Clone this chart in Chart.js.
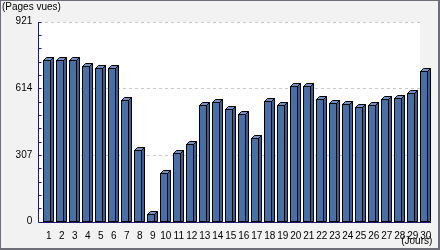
<!DOCTYPE html>
<html><head><meta charset="utf-8">
<script src="https://cdn.jsdelivr.net/npm/chart.js@4/dist/chart.umd.min.js"></script>
<style>html,body{margin:0;padding:0;background:#f2f2f2}canvas{display:block}</style>
</head><body>
<canvas id="c" width="440" height="250"></canvas>
<script>
const days = ['1','2','3','4','5','6','7','8','9','10','11','12','13','14','15','16','17','18','19','20','21','22','23','24','25','26','27','28','29','30'];
const pageViews = [743,743,743,716,706,706,560,330,34,223,315,358,537,551,519,496,385,556,537,625,625,564,548,543,528,539,564,568,594,694];
const yTicks = [0,307,614,921];
const yTitle = '(Pages vues)';
const xTitle = '(Jours)';

const FONT = {family:'"Liberation Sans", Arial, sans-serif', size:10, weight:'normal'};
const AXIS = '#1a1a70';

const framePlugin = {
  id:'frame',
  beforeDraw(chart){
    const ctx = chart.ctx, a = chart.chartArea, W = chart.width, H = chart.height;
    const ys = chart.scales.y;
    ctx.save();
    ctx.fillStyle = '#f2f2f2'; ctx.fillRect(0,0,W,H);
    const ax = Math.round(a.left - 4.3);
    const rx = Math.round(a.right - 12.3);
    const top = Math.round(ys.getPixelForValue(yTicks[yTicks.length-1]));
    const bot = Math.round(ys.getPixelForValue(0));
    ctx.fillStyle = '#ffffff'; ctx.fillRect(ax, top, rx-ax, bot-top);
    ctx.strokeStyle = '#c8c8c8'; ctx.lineWidth = 1; ctx.setLineDash([3,3]);
    yTicks.forEach(v=>{ if(v===0) return; const y = Math.round(ys.getPixelForValue(v))+0.5;
      ctx.beginPath(); ctx.moveTo(ax+1,y); ctx.lineTo(rx,y); ctx.stroke(); });
    ctx.setLineDash([]);
    ctx.fillStyle = '#6e6e78';
    ctx.fillRect(0,0,W,1); ctx.fillRect(0,0,1,H); ctx.fillRect(W-2,0,2,H); ctx.fillRect(0,H-2,W,2);
    ctx.restore();
  },
  beforeDatasetsDraw(chart){
    const ctx = chart.ctx, a = chart.chartArea; const ys = chart.scales.y;
    const ax = Math.round(a.left - 4.3)+0.5;
    const top = Math.round(ys.getPixelForValue(yTicks[yTicks.length-1]));
    const bot = Math.round(ys.getPixelForValue(0))+0.5;
    ctx.save(); ctx.strokeStyle = AXIS; ctx.lineWidth = 1;
    ctx.beginPath(); ctx.moveTo(ax, top); ctx.lineTo(ax, bot); ctx.lineTo(Math.round(a.right)-1, bot); ctx.stroke();
    const step = (yTicks[1]-yTicks[0])/5;
    for(let v=step; v<=yTicks[yTicks.length-1]+0.01; v+=step){
      const y = Math.round(ys.getPixelForValue(v))+0.5;
      ctx.beginPath(); ctx.moveTo(ax, y); ctx.lineTo(ax+3, y); ctx.stroke();
    }
    ctx.restore();
  },
  afterDatasetsDraw(chart){
    const ctx = chart.ctx; const meta = chart.getDatasetMeta(0);
    const d = 3;
    ctx.save(); ctx.lineWidth = 1; ctx.strokeStyle = '#000000'; ctx.lineJoin='miter';
    meta.data.forEach(el=>{
      const {x, y, base, width} = el.getProps(['x','y','base','width'], true);
      const L = Math.round(x - width/2) + 0.5;
      const fw = Math.round(width) - d - 1;
      const T = Math.round(y) + 0.5;
      const B = Math.round(base) - 0.5;
      ctx.fillStyle = '#3a5f94';
      ctx.beginPath(); ctx.moveTo(L+fw,T); ctx.lineTo(L+fw+d,T-d); ctx.lineTo(L+fw+d,B); ctx.lineTo(L+fw,B); ctx.closePath(); ctx.fill(); ctx.stroke();
      ctx.fillStyle = '#6f93c6';
      ctx.beginPath(); ctx.moveTo(L,T); ctx.lineTo(L+d,T-d); ctx.lineTo(L+fw+d,T-d); ctx.lineTo(L+fw,T); ctx.closePath(); ctx.fill(); ctx.stroke();
      ctx.fillStyle = '#4670a8';
      ctx.fillRect(L, T, fw, B-T); ctx.strokeRect(L, T, fw, B-T);
    });
    ctx.restore();
  }
};

new Chart(document.getElementById('c'), {
  type:'bar',
  data:{labels:days, datasets:[{data:pageViews, backgroundColor:'rgba(0,0,0,0)', borderWidth:0, categoryPercentage:1, barPercentage:11/13}]},
  options:{
    responsive:false, animation:false, devicePixelRatio:1,
    layout:{padding:{left:2, right:7.7, top:0, bottom:2}},
    plugins:{
      legend:{display:false}, tooltip:{enabled:false},
      title:{display:true, text:yTitle, align:'start', color:'#000', font:FONT, padding:{top:1.5, bottom:8.2}}
    },
    scales:{
      x:{type:'category', offset:true, grid:{display:false}, border:{display:false},
         ticks:{autoSkip:false, maxRotation:0, minRotation:0, padding:1, color:'#000', font:FONT},
         title:{display:true, text:xTitle, align:'end', color:'#000', font:FONT, padding:{top:0,bottom:1}},
         afterFit(s){ s.height = 26.3; }},
      y:{min:0, max:yTicks[yTicks.length-1], grid:{display:false, drawTicks:false}, border:{display:false},
         afterBuildTicks(s){ s.ticks = yTicks.map(v=>({value:v})); },
         ticks:{padding:10, color:'#000', font:FONT},
         afterFit(s){ s.width = 40.3; }}
    }
  },
  plugins:[framePlugin]
});
</script>
</body></html>
